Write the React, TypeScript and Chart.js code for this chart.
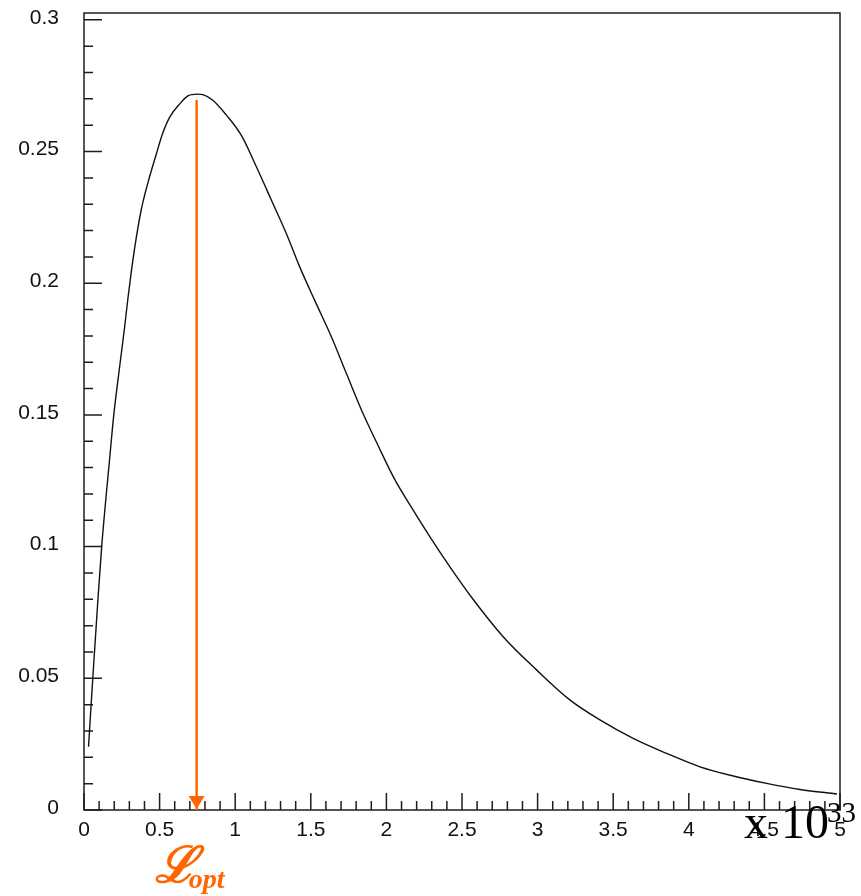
import React, { useEffect, useRef } from "react";
import { Chart, registerables } from "chart.js";

Chart.register(...registerables);

// ---- data ----
const curveX = [
  0.03, 0.058, 0.091, 0.117, 0.169, 0.197, 0.235, 0.268, 0.29, 0.312, 0.345, 0.379,
  0.422, 0.478, 0.521, 0.566, 0.632, 0.69, 0.75, 0.786, 0.852, 0.941, 1.04, 1.14,
  1.239, 1.338, 1.426, 1.525, 1.636, 1.735, 1.835, 1.944, 2.055, 2.17, 2.287, 2.419,
  2.573, 2.772, 2.993, 3.213, 3.412, 3.632, 3.853, 4.074, 4.294, 4.515, 4.736, 4.98,
];
const curveY = [
  0.024, 0.05, 0.079, 0.1, 0.133, 0.15, 0.168, 0.183, 0.194, 0.204, 0.217, 0.228,
  0.238, 0.249, 0.257, 0.263, 0.268, 0.2712, 0.2718, 0.2716, 0.2695, 0.2639, 0.2562, 0.2442,
  0.2316, 0.2189, 0.2063, 0.1936, 0.1797, 0.1658, 0.1519, 0.1385, 0.1255, 0.1145, 0.1038, 0.0924,
  0.0800, 0.0658, 0.0532, 0.0418, 0.0342, 0.0272, 0.0215, 0.0164, 0.0129, 0.0101, 0.0078, 0.0061,
];
const loptX = [0.745, 0.745];
const loptY = [0.2696, 0];

const xTickValues = [0, 0.5, 1, 1.5, 2, 2.5, 3, 3.5, 4, 4.5, 5];
const yTickValues = [0, 0.05, 0.1, 0.15, 0.2, 0.25, 0.3];
const xMinorStep = 0.1;
const yMinorStep = 0.01;
const X_MIN = 0;
const X_MAX = 5;
const Y_MIN = 0;
const Y_MAX = 0.3026;

const multiplierX = "x";
const multiplierTen = "10";
const exponentText = "33";
const loptMain = "\u2112";
const loptSub = "opt";

const ORANGE = "#ff6600";
const AXIS = "#1e1e1e";

const framePlugin = {
  id: "frameTicks",
  beforeDatasetsDraw(chart: any) {
    const { ctx, chartArea } = chart;
    const xs = chart.scales.x;
    const ys = chart.scales.y;
    ctx.save();
    ctx.strokeStyle = AXIS;
    ctx.lineWidth = 1.5;
    ctx.strokeRect(chartArea.left, chartArea.top, chartArea.right - chartArea.left, chartArea.bottom - chartArea.top);
    ctx.beginPath();
    const nY = Math.round((yTickValues[yTickValues.length - 1] - yTickValues[0]) / yMinorStep);
    for (let i = 0; i <= nY; i++) {
      const v = yTickValues[0] + i * yMinorStep;
      const p = ys.getPixelForValue(v);
      const len = i % 5 === 0 ? 18 : 9;
      ctx.moveTo(chartArea.left, p);
      ctx.lineTo(chartArea.left + len, p);
    }
    const nX = Math.round((xTickValues[xTickValues.length - 1] - xTickValues[0]) / xMinorStep);
    for (let i = 0; i <= nX; i++) {
      const v = xTickValues[0] + i * xMinorStep;
      const p = xs.getPixelForValue(v);
      const len = i % 5 === 0 ? 17 : 9;
      ctx.moveTo(p, chartArea.bottom);
      ctx.lineTo(p, chartArea.bottom - len);
    }
    ctx.stroke();
    ctx.restore();
  },
  afterDatasetsDraw(chart: any) {
    const { ctx, chartArea } = chart;
    const xs = chart.scales.x;
    const ys = chart.scales.y;
    ctx.save();
    // arrow head
    const ax = xs.getPixelForValue(loptX[1]);
    const ay = ys.getPixelForValue(loptY[1]);
    ctx.fillStyle = ORANGE;
    ctx.beginPath();
    ctx.moveTo(ax - 8, ay - 14);
    ctx.lineTo(ax + 8, ay - 14);
    ctx.lineTo(ax, ay - 1);
    ctx.closePath();
    ctx.fill();
    // L_opt label
    ctx.textBaseline = "alphabetic";
    ctx.textAlign = "left";
    ctx.font = "italic bold 50px 'DejaVu Serif'";
    ctx.fillText(loptMain, ax - 42, ay + 72);
    ctx.font = "italic bold 28px 'Liberation Serif'";
    ctx.fillText(loptSub, ax - 8, ay + 78);
    // x10^33
    ctx.fillStyle = "#000";
    ctx.font = "48px 'Liberation Serif'";
    ctx.fillText(multiplierX, chartArea.right - 96, chartArea.bottom + 28);
    ctx.fillText(multiplierTen, chartArea.right - 59, chartArea.bottom + 28);
    ctx.font = "29px 'Liberation Serif'";
    ctx.fillText(exponentText, chartArea.right - 13, chartArea.bottom + 12);
    ctx.restore();
  },
};

export default function App() {
  const canvasRef = useRef<HTMLCanvasElement | null>(null);

  useEffect(() => {
    const canvas = canvasRef.current;
    if (!canvas) return;
    const tickFont = { family: "'Liberation Sans', Arial, sans-serif", size: 21 };
    const chart = new Chart(canvas, {
      type: "line",
      data: {
        datasets: [
          {
            data: curveX.map((x, i) => ({ x, y: curveY[i] })),
            borderColor: "#111111",
            borderWidth: 1.4,
            pointRadius: 0,
            cubicInterpolationMode: "monotone",
            fill: false,
          },
          {
            data: loptX.map((x, i) => ({ x, y: loptY[i] })),
            borderColor: ORANGE,
            borderWidth: 2.5,
            pointRadius: 0,
            fill: false,
          },
        ],
      },
      options: {
        responsive: false,
        animation: false,
        devicePixelRatio: 1,
        layout: { padding: { top: 13, right: 21, left: 0, bottom: 0 } },
        plugins: { legend: { display: false }, tooltip: { enabled: false } },
        scales: {
          x: {
            type: "linear",
            min: X_MIN,
            max: X_MAX,
            afterBuildTicks: (s: any) => {
              s.ticks = xTickValues.map((v) => ({ value: v }));
            },
            afterFit: (s: any) => {
              s.height = 86;
              s.paddingLeft = 0;
              s.paddingRight = 0;
            },
            grid: { display: false, drawTicks: false },
            border: { display: false },
            ticks: {
              font: tickFont,
              color: "#111",
              padding: 8,
              maxRotation: 0,
              autoSkip: false,
              callback: (v: any) => String(v),
            },
          },
          y: {
            type: "linear",
            min: Y_MIN,
            max: Y_MAX,
            afterBuildTicks: (s: any) => {
              s.ticks = yTickValues.map((v) => ({ value: v }));
            },
            afterFit: (s: any) => {
              s.width = 84;
              s.paddingTop = 0;
              s.paddingBottom = 0;
            },
            grid: { display: false, drawTicks: false },
            border: { display: false },
            ticks: {
              font: tickFont,
              color: "#111",
              padding: 25,
              labelOffset: -2,
              autoSkip: false,
              callback: (v: any) => String(v),
            },
          },
        },
      },
      plugins: [framePlugin],
    } as any);
    return () => chart.destroy();
  }, []);

  return (
    <div style={{ position: "fixed", left: 0, top: 0, width: 861, height: 896, background: "#fff" }}>
      <canvas ref={canvasRef} width={861} height={896} style={{ display: "block", width: 861, height: 896 }} />
    </div>
  );
}
